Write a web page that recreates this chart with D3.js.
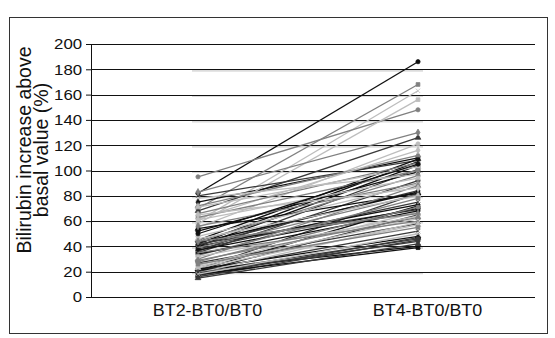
<!DOCTYPE html>
<html><head><meta charset="utf-8">
<script src="https://cdn.jsdelivr.net/npm/d3@7"></script>
<style>
html,body{margin:0;padding:0;background:#fff;}
svg{display:block;font-family:"Liberation Sans",Arial,sans-serif;}
</style></head>
<body>
<svg id="chart" width="555" height="338"></svg>
<script>
// ---- data ----
const categories = ["BT2-BT0/BT0", "BT4-BT0/BT0"];
const yTicks = [0, 20, 40, 60, 80, 100, 120, 140, 160, 180, 200];
const bt2Values = [
  82,70,60,68, 75,95,58,80, 45,83,55,36, 42,72,62,35,
  40,66,71,41, 52,63,78,22, 43,44,61,38, 54,56,48,42,
  40,30,65,20, 21,39,46,27, 37,33,25,17, 34,28,32,21,
  22,44,24,20, 21,29,19,16, 18,35,23,19, 50,26,18,15
];
const bt4Values = [
  186,168,163,126, 110,148,156,108, 109,130,121,101, 107,112,116,92,
  104,106,103,84, 99,100,97,82, 83,96,94,75, 82,90,89,69,
  73,88,86,65, 72,81,80,58, 70,78,67,47, 68,71,64,52,
  48,66,62,46, 40,63,59,45, 39,60,57,44, 105,55,50,42
];
const yTitleLines = ["Bilirubin increase above", "basal value (%)"];

// ---- styles ----
const grays = ["#101010", "#808080", "#bdbdbd", "#3a3a3a"];
const symbols = [d3.symbolCircle, d3.symbolSquare, d3.symbolX, d3.symbolTriangle, d3.symbolDiamond];
const stretch = 1.12;

const svg = d3.select("#chart");
const plot = {left: 91, right: 535, top: 44, bottom: 297};

// outer frame
svg.append("rect").attr("x", 9.5).attr("y", 17.5).attr("width", 538).attr("height", 316)
  .attr("fill", "none").attr("stroke", "#333").attr("stroke-width", 1);

const y = d3.scaleLinear().domain([0, 200]).range([plot.bottom, plot.top]);
const x = d3.scalePoint().domain(categories).range([88, 528]).padding(0.5);

// faint underlying gridlines within category span
svg.append("g").selectAll("line").data(yTicks.slice(1, -1)).join("line")
  .attr("x1", x(categories[0]) - 6).attr("x2", x(categories[1]) + 5)
  .attr("y1", d => y(d) + 1.5).attr("y2", d => y(d) + 1.5)
  .attr("stroke", "#dcdcdc").attr("stroke-width", 2);

// black gridlines
svg.append("g").selectAll("line").data(yTicks).join("line")
  .attr("x1", plot.left).attr("x2", plot.right)
  .attr("y1", d => Math.round(y(d)) + 0.5).attr("y2", d => Math.round(y(d)) + 0.5)
  .attr("stroke", "#111").attr("stroke-width", 1);

// y axis
const yAxis = svg.append("g").attr("transform", `translate(${plot.left},0)`)
  .call(d3.axisLeft(y).tickValues(yTicks).tickSize(5).tickPadding(3));
yAxis.select(".domain").attr("stroke", "#111");
yAxis.selectAll(".tick line").attr("stroke", "#111");
yAxis.selectAll("text").attr("font-size", 15).attr("fill", "#111")
  .attr("font-family", "Liberation Sans, Arial, sans-serif")
  .attr("transform", `scale(${stretch},1)`);

// x axis labels
const xAxis = svg.append("g").attr("transform", `translate(0,${plot.bottom})`)
  .call(d3.axisBottom(x).tickSize(0).tickPadding(0));
xAxis.select(".domain").remove();
xAxis.selectAll("text").attr("font-size", 16).attr("fill", "#111")
  .attr("font-family", "Liberation Sans, Arial, sans-serif")
  .attr("y", 19).attr("dy", 0)
  .attr("transform", `translate(9,0) scale(${stretch},1)`);

// data lines
const subjects = bt2Values.map((v, i) => ({i, a: v, b: bt4Values[i]}));
const g = svg.append("g");
subjects.forEach(s => {
  const col = grays[s.i % grays.length];
  const pts = [[x(categories[0]), y(s.a)], [x(categories[1]), y(s.b)]];
  g.append("path").attr("d", d3.line()(pts)).attr("fill", "none")
    .attr("stroke", col).attr("stroke-width", 1.3);
  const sym = d3.symbol().type(symbols[s.i % symbols.length]).size(14);
  pts.forEach(p => {
    g.append("path").attr("d", sym()).attr("transform", `translate(${p[0]},${p[1]})`)
      .attr("fill", col).attr("stroke", col).attr("stroke-width", 0.8);
  });
});

// y title
const tt = svg.append("text")
  .attr("transform", `translate(31,150) rotate(-90)`)
  .attr("text-anchor", "middle").attr("font-size", 19.5).attr("fill", "#111")
  .attr("font-family", "Liberation Sans, Arial, sans-serif");
tt.append("tspan").attr("x", 0).attr("y", 0).text(yTitleLines[0]);
tt.append("tspan").attr("x", 0).attr("y", 17).text(yTitleLines[1]);
</script>
</body></html>
